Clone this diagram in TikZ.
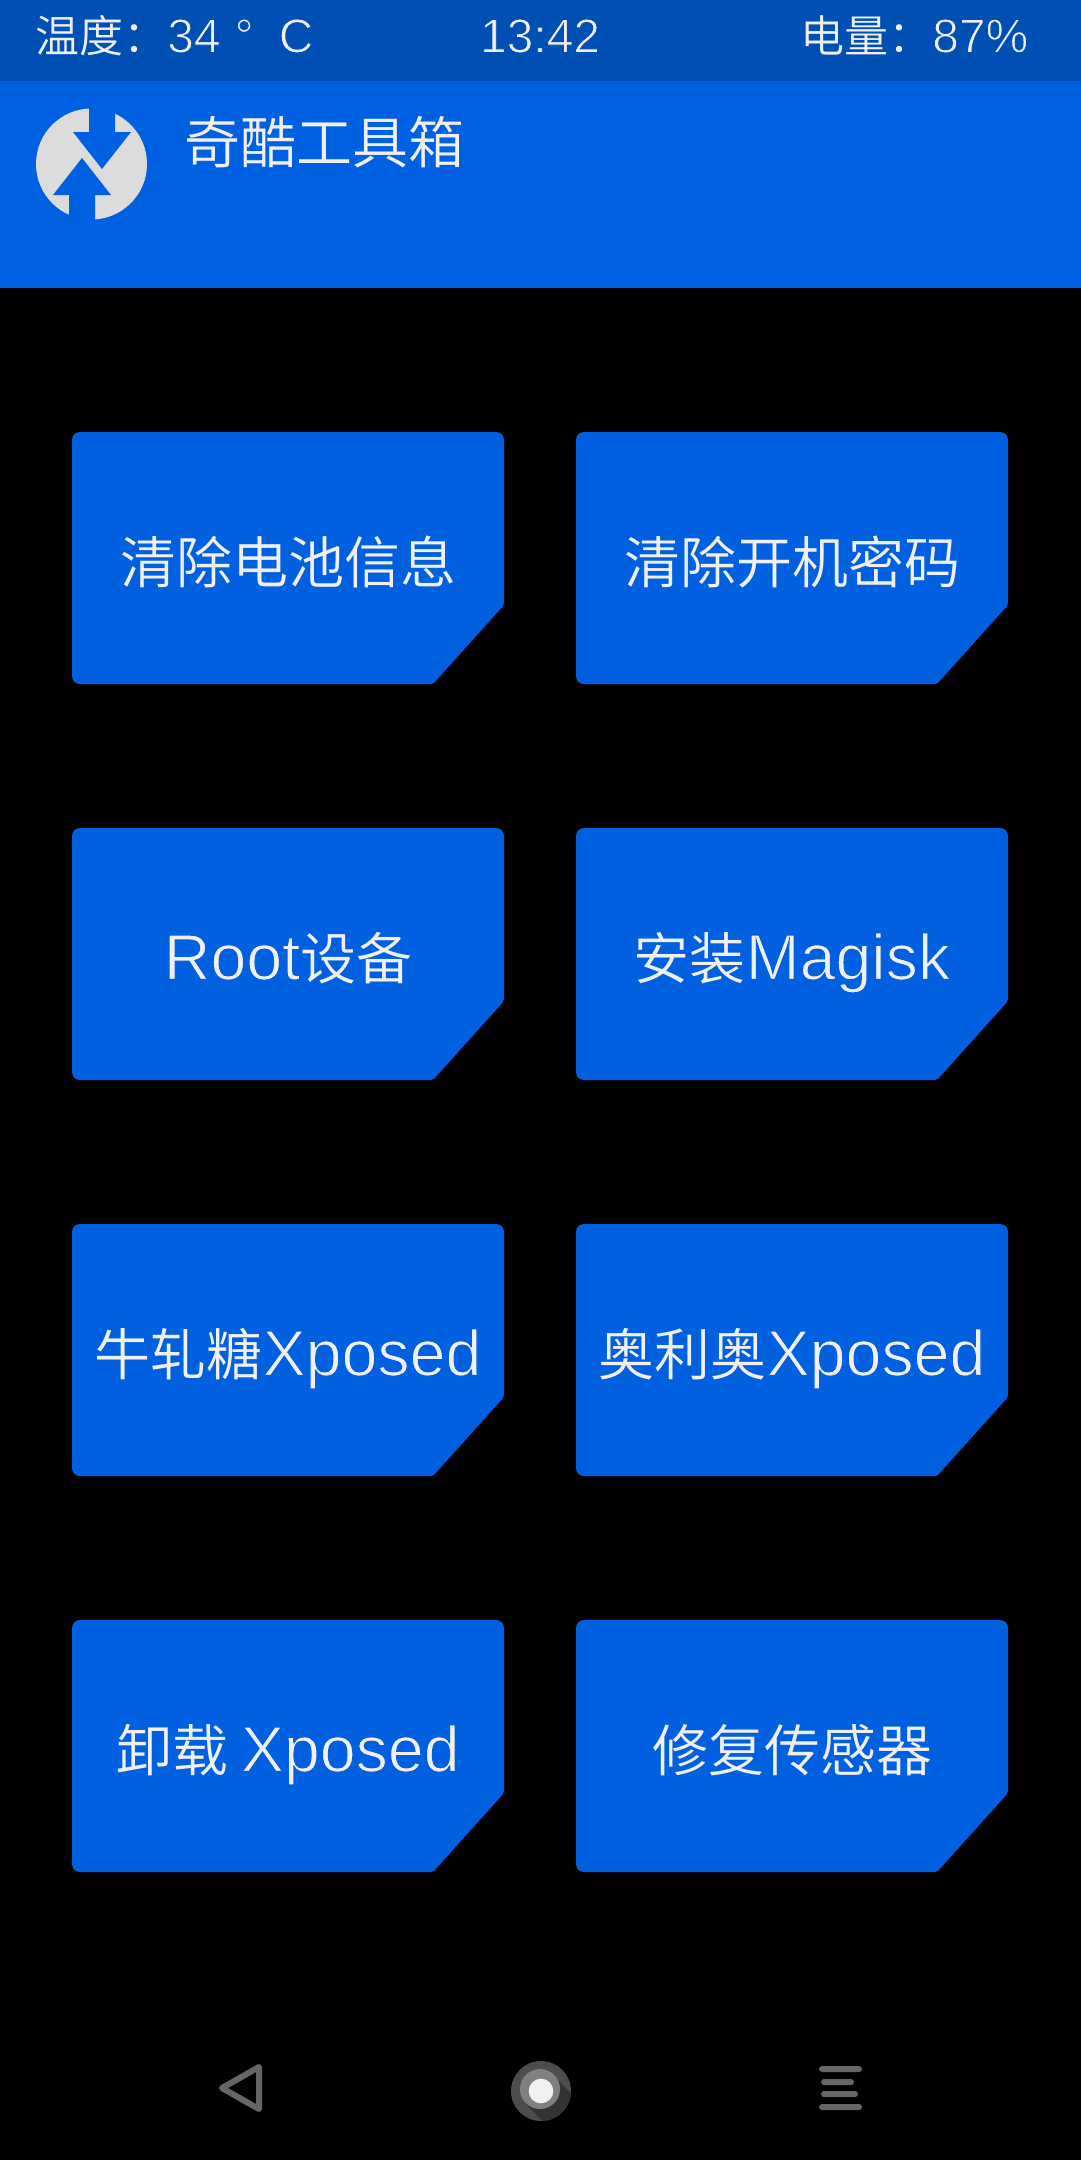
\documentclass[tikz,border=0pt]{standalone}
\usepackage{fontspec}
\setmainfont{Liberation Sans}
\newfontfamily\cjk{Noto Sans CJK SC DemiLight}
\newfontfamily\latf{Liberation Sans}
\definecolor{bar}{HTML}{004FB5}
\definecolor{head}{HTML}{0060E2}
\definecolor{btn}{HTML}{0060DF}
\definecolor{txt}{HTML}{F0F0F0}
\definecolor{logo}{HTML}{DCDCDC}
\definecolor{navg}{HTML}{666666}
\definecolor{homeo}{HTML}{4D4D4D}
\definecolor{homes}{HTML}{333333}
\definecolor{homem}{HTML}{808080}
\newcommand{\fs}[1]{\fontsize{#1}{#1}\selectfont}
% Liberation Sans has no light weight: thin its strokes with an outline in the background colour
\newcommand{\thinA}[1]{\special{pdf:code 2 Tr 1.1 w 0 0.376 0.875 RG}#1\special{pdf:code 0 Tr 1 w 0 0 0 RG}}
\newcommand{\thinB}[1]{\special{pdf:code 2 Tr 0.9 w 0 0.31 0.71 RG}#1\special{pdf:code 0 Tr 1 w 0 0 0 RG}}
\newcommand{\lat}[1]{{\fs{64.5}\latf\thinA{#1}}}
\newcommand{\stc}[1]{{\fs{44}\cjk #1}}
\tikzset{
  btntext/.style={text=txt,font=\fs{56}\cjk,inner sep=0pt,anchor=base},
  stat/.style={text=txt,font=\fs{48}\latf,inner sep=0pt,anchor=base west},
  navbar/.style={fill=navg,rounded corners=3pt},
}
\newcommand{\btn}[4]{%
  \fill[btn] (#1+200,#2) [rounded corners=8pt] -- (#1+432,#2) [rounded corners=2pt] -- (#1+432,#2+173) -- (#1+361,#2+252) [rounded corners=8pt] -- (#1,#2+252) -- (#1,#2) -- cycle;
  \node[btntext] (#3) at (#1+216,#2+151.5) {#4};}
\begin{document}
\begin{tikzpicture}[x=1pt,y=-1pt]
\useasboundingbox (0,0) rectangle (1080,2160);
\fill[black] (0,0) rectangle (1084,2164);
\fill[bar] (0,0) rectangle (1084,81);
\fill[head] (0,81) rectangle (1084,288);
\node[stat] (temp) at (35,52.5) {\stc{温度：}\thinB{34\hspace{14pt}°\hspace{25pt}C}};
\node[stat,anchor=base] (clock) at (540,52.5) {\thinB{13:42}};
\node[stat] (batt) at (800,52.5) {\stc{电量：}\thinB{87\%}};
\fill[logo] (91.5,164) circle [radius=55.5];
\fill[head] (89,100) -- (89,132) -- (73,132) -- (102,169) -- (131,132) -- (115,132) -- (115,100) -- cycle;
\fill[head] (82,158) -- (53,195) -- (69,195) -- (69,225) -- (95,225) -- (95,195) -- (111,195) -- cycle;
\node[text=txt,font=\fs{56}\cjk,inner sep=0pt,anchor=base west] (title) at (184,163) {奇酷工具箱};
\btn{72}{432}{b1}{清除电池信息}
\btn{576}{432}{b2}{清除开机密码}
\btn{72}{828}{b3}{\lat{Root}设备}
\btn{576}{828}{b4}{安装\lat{Magisk}}
\btn{72}{1224}{b5}{牛轧糖\lat{Xposed}}
\btn{576}{1224}{b6}{奥利奥\lat{Xposed}}
\btn{72}{1620}{b7}{卸载 \lat{Xposed}}
\btn{576}{1620}{b8}{修复传感器}
\draw[navg,line width=6pt,line join=round] (222,2088) -- (259,2067) -- (259,2109) -- cycle;
\fill[homeo] (541,2091) circle [radius=30];
\begin{scope}
\clip (541,2091) circle [radius=30];
\fill[homes] (555,2077) -- (595,2117) -- (567,2145) -- (527,2105) -- cycle;
\end{scope}
\fill[homem] (540,2089) circle [radius=20];
\fill[txt] (541,2091) circle [radius=12.3];
\fill[navbar] (819,2066) rectangle (862,2072);
\fill[navbar] (821,2079) rectangle (854,2085);
\fill[navbar] (821,2091) rectangle (858,2097);
\fill[navbar] (819,2104) rectangle (862,2110);
\end{tikzpicture}
\end{document}
